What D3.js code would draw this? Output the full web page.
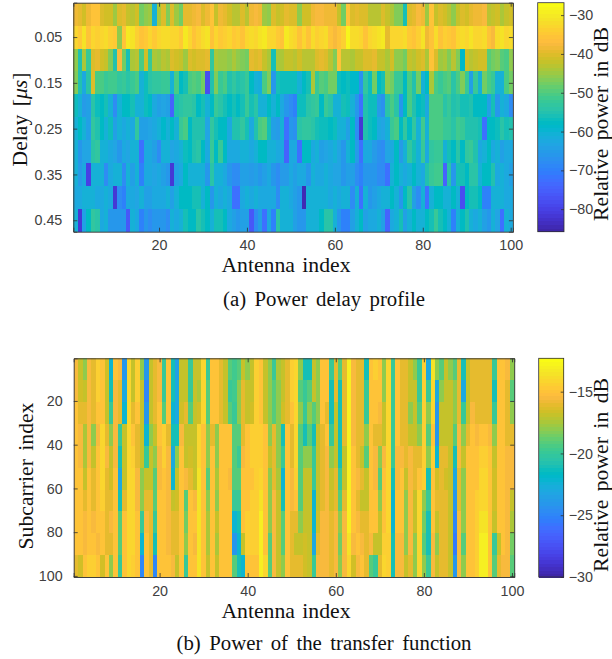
<!DOCTYPE html>
<html>
<head>
<meta charset="utf-8">
<script src="https://cdn.jsdelivr.net/npm/d3@7"></script>
<style>
body { margin: 0; background: #fff; }
text { font-family: "Liberation Serif", serif; fill: #111; }
.tick text { font-family: "Liberation Sans", sans-serif; font-size: 14.3px; fill: #404040; }
</style>
</head>
<body>
<div id="chart"></div>
<script>
// Delay rows (a), dB, one value per antenna
var delays = [0, 0.05, 0.1, 0.15, 0.2, 0.25, 0.3, 0.35, 0.4, 0.45];
var delayTicks = [0.05, 0.15, 0.25, 0.35, 0.45];
var delay00 = [-38,-39,-41,-38,-36,-36,-40,-41,-41,-45,-40,-39,-42,-43,-41,-48,-46,-45,-60,-44,-40,-47,-40,-45,-48,-39,-39,-38,-37,-40,-38,-36,-42,-38,-39,-41,-43,-43,-40,-43,-38,-37,-38,-45,-46,-40,-42,-41,-39,-40,-40,-46,-41,-41,-38,-37,-37,-38,-38,-38,-42,-48,-36,-40,-39,-40,-40,-43,-43,-43,-40,-42,-44,-47,-47,-56,-40,-39,-37,-38,-45,-36,-42,-40,-41,-43,-46,-42,-40,-41,-39,-38,-38,-37,-43,-42,-41,-44,-42,-41];
var delay05 = [-33,-35,-31,-36,-33,-34,-33,-32,-34,-35,-46,-36,-30,-31,-34,-36,-35,-33,-35,-33,-32,-32,-33,-33,-35,-30,-33,-36,-34,-32,-31,-36,-33,-35,-34,-33,-35,-34,-36,-33,-32,-33,-31,-30,-33,-33,-35,-36,-30,-32,-33,-36,-33,-36,-32,-34,-33,-32,-36,-37,-36,-34,-28,-32,-32,-33,-36,-33,-32,-31,-30,-39,-33,-33,-33,-32,-35,-36,-34,-31,-38,-36,-32,-36,-34,-35,-36,-33,-32,-33,-31,-33,-33,-32,-36,-37,-32,-31,-33,-32];
var delay10 = [-46,-55,-44,-52,-40,-39,-41,-42,-47,-55,-37,-48,-56,-44,-43,-50,-41,-52,-44,-45,-43,-44,-40,-41,-42,-45,-40,-41,-40,-40,-39,-53,-44,-45,-45,-46,-44,-46,-47,-48,-39,-40,-39,-42,-44,-56,-44,-44,-42,-42,-43,-41,-43,-43,-43,-40,-39,-40,-43,-47,-36,-43,-43,-44,-42,-42,-40,-40,-39,-42,-42,-44,-41,-46,-46,-48,-42,-43,-41,-40,-44,-36,-40,-45,-44,-47,-43,-47,-59,-41,-43,-42,-41,-41,-49,-48,-47,-49,-50,-46];
var delay15 = [-47,-55,-62,-54,-40,-50,-50,-52,-51,-51,-53,-52,-54,-52,-50,-60,-57,-54,-53,-53,-52,-52,-60,-50,-58,-56,-50,-49,-50,-48,-78,-55,-47,-52,-50,-55,-53,-55,-54,-52,-58,-60,-61,-50,-47,-66,-56,-57,-57,-57,-57,-60,-58,-56,-44,-52,-49,-50,-48,-48,-57,-58,-57,-59,-59,-67,-53,-57,-48,-58,-56,-46,-48,-52,-52,-58,-50,-55,-48,-60,-58,-44,-50,-52,-50,-49,-54,-50,-47,-52,-64,-52,-60,-48,-50,-52,-60,-60,-50,-48];
var delay20 = [-57,-60,-65,-64,-54,-57,-58,-56,-60,-68,-60,-58,-58,-56,-60,-60,-57,-58,-62,-64,-63,-64,-74,-55,-54,-53,-53,-54,-58,-56,-60,-58,-52,-54,-56,-58,-56,-58,-56,-52,-56,-54,-60,-60,-58,-60,-58,-62,-66,-68,-70,-57,-57,-54,-53,-52,-58,-52,-54,-60,-60,-56,-57,-60,-66,-72,-55,-57,-57,-65,-67,-54,-50,-54,-66,-58,-50,-55,-58,-57,-62,-50,-50,-50,-54,-52,-55,-54,-56,-56,-55,-58,-58,-58,-64,-56,-66,-60,-62,-68];
var delay25 = [-60,-58,-60,-64,-53,-55,-58,-60,-57,-64,-60,-62,-60,-62,-53,-64,-64,-63,-62,-60,-59,-60,-58,-60,-52,-50,-58,-55,-55,-55,-63,-53,-56,-58,-58,-62,-55,-55,-53,-56,-62,-55,-50,-49,-56,-64,-65,-60,-72,-66,-67,-54,-53,-53,-54,-56,-57,-57,-58,-57,-60,-60,-64,-58,-68,-82,-55,-57,-58,-62,-63,-60,-52,-50,-58,-53,-58,-53,-60,-51,-60,-50,-50,-50,-52,-52,-54,-51,-52,-55,-55,-55,-56,-72,-58,-58,-57,-54,-56,-55];
var delay30 = [-60,-66,-63,-63,-54,-53,-60,-60,-62,-63,-66,-62,-63,-60,-60,-72,-62,-62,-64,-68,-60,-60,-63,-62,-60,-57,-58,-55,-54,-58,-62,-52,-58,-52,-58,-62,-62,-62,-60,-60,-62,-60,-58,-58,-60,-60,-62,-62,-74,-62,-62,-72,-58,-58,-62,-60,-64,-63,-62,-60,-63,-66,-60,-58,-65,-72,-62,-62,-65,-67,-68,-63,-62,-58,-65,-60,-53,-56,-60,-52,-62,-53,-52,-52,-60,-56,-58,-54,-58,-53,-52,-55,-62,-60,-58,-62,-60,-64,-62,-62];
var delay35 = [-60,-65,-62,-80,-60,-60,-60,-68,-62,-60,-60,-68,-60,-64,-60,-70,-62,-62,-63,-62,-64,-66,-82,-64,-62,-58,-60,-60,-60,-60,-66,-54,-60,-60,-62,-66,-68,-68,-64,-64,-65,-64,-66,-64,-62,-66,-68,-65,-65,-62,-64,-62,-62,-66,-60,-62,-62,-60,-62,-63,-63,-66,-64,-64,-68,-70,-66,-66,-66,-68,-68,-72,-60,-58,-60,-62,-60,-58,-60,-62,-55,-52,-51,-51,-74,-54,-66,-56,-56,-58,-54,-54,-60,-58,-58,-55,-62,-60,-62,-64];
var delay40 = [-62,-62,-60,-60,-60,-62,-62,-60,-62,-82,-68,-70,-62,-62,-63,-60,-64,-64,-62,-62,-62,-60,-64,-60,-58,-58,-58,-56,-56,-60,-58,-66,-60,-62,-60,-62,-72,-72,-62,-60,-62,-60,-62,-62,-62,-62,-68,-60,-60,-62,-64,-66,-84,-60,-60,-60,-60,-60,-62,-60,-62,-60,-60,-68,-60,-72,-60,-66,-64,-62,-60,-60,-58,-60,-66,-58,-54,-64,-68,-60,-72,-60,-58,-58,-60,-60,-58,-60,-78,-58,-56,-56,-58,-70,-70,-60,-60,-60,-62,-62];
var delay45 = [-60,-82,-64,-58,-53,-54,-62,-60,-66,-66,-66,-66,-76,-60,-62,-70,-66,-68,-66,-66,-66,-68,-60,-62,-60,-56,-58,-58,-54,-56,-58,-60,-56,-56,-58,-62,-64,-66,-64,-64,-76,-68,-64,-72,-62,-70,-54,-60,-60,-60,-64,-66,-66,-60,-60,-60,-58,-54,-54,-60,-66,-70,-70,-64,-60,-58,-64,-62,-62,-60,-64,-74,-62,-60,-56,-64,-60,-58,-60,-60,-58,-56,-52,-56,-58,-60,-70,-60,-58,-55,-60,-62,-60,-64,-66,-60,-63,-72,-60,-62];
var delayRows = [delay00, delay05, delay10, delay15, delay20, delay25, delay30, delay35, delay40, delay45];

// Subcarrier bands (b), dB, one value per antenna, each band is ten subcarriers
var bandCentres = [5.5, 15.5, 25.5, 35.5, 45.5, 55.5, 65.5, 75.5, 85.5, 95.5];
var band1 = [-15.5,-17,-18,-15.5,-16,-14.5,-15,-16.5,-22,-15,-15.5,-24,-14,-17,-14.5,-18,-24,-17,-16,-15.5,-20,-15,-21,-23.5,-17,-17,-20,-17,-17,-14,-20,-15,-15,-16,-17,-19,-19.5,-19,-17,-18,-17,-14.5,-15,-17,-18,-20,-17.5,-17,-16,-14.5,-14,-18,-21,-21,-17,-18,-15,-15,-20,-16,-19,-16,-13,-15.5,-16,-16,-21,-15,-14.5,-15,-18,-14,-20,-15,-16,-16,-17,-18,-20,-14.5,-23,-13.5,-18,-19,-17,-18,-19,-16,-21,-17,-16,-16,-16,-16,-16,-20,-15,-15,-15.5,-18];
var band2 = [-15.5,-16.5,-17,-15.5,-16,-14.5,-15,-17,-21,-15.5,-16,-23,-14,-17,-14.5,-17,-25,-17,-16,-15.5,-20,-15,-21,-23,-17,-17,-20,-17,-17.5,-14,-19,-15,-15,-16,-17,-20,-19.5,-18,-16,-17,-17,-14.5,-15,-17,-18,-19,-18,-17,-16,-14.5,-14,-19,-20,-19,-17,-18,-15,-15,-21,-16,-21,-16,-13,-15.5,-16,-16,-20,-15,-15,-15,-18,-14,-20,-15,-16,-16,-17,-17,-20,-14.5,-20,-14,-23,-18,-17,-17,-18,-16,-23,-17,-16,-16,-16,-16,-16,-21,-15,-15,-16,-19];
var band3 = [-15,-16,-16,-15.5,-16,-15,-15,-17,-20,-15.5,-16,-22,-14,-16,-15,-17,-24,-17,-16,-15,-19,-15,-22,-23,-16.5,-16,-19,-17,-16.5,-14,-19,-15,-15,-16,-17,-19,-20,-18,-16,-17,-16.5,-14.5,-15,-17,-18,-19,-18,-16.5,-16,-15,-14,-18,-20,-18,-19,-18,-15,-16,-21,-17,-21,-16,-13,-15.5,-16,-16,-20,-15,-15,-15.5,-17,-14,-20,-15,-16,-16,-18,-17,-19,-14.5,-18,-14,-24,-17,-17,-17,-18,-16,-20,-17,-15.5,-16,-16,-16,-16,-20,-15,-15,-16,-18];
var band4 = [-15,-15.5,-17.5,-15.5,-18,-15.5,-14,-16,-18,-15.5,-20,-17,-14,-15,-16,-17,-22,-18,-17,-15,-14.5,-16,-21,-21,-15.5,-17,-17,-17,-14,-15,-18,-16,-18,-15,-15,-15,-19,-19,-16,-15,-14.5,-14.5,-14.5,-15,-18,-16,-18,-21,-15,-16,-14,-19,-21,-19,-21,-17,-16,-15,-20,-17,-21,-16,-13,-15.5,-16,-16,-18,-15,-16,-16,-17,-14,-20,-15,-16,-16,-17,-17,-18,-14.5,-19,-15,-24,-17,-17,-17,-19,-15.5,-18,-16,-15,-15.5,-15,-15,-15.5,-18,-15,-15,-16,-16];
var band5 = [-15,-15.5,-17.5,-15.5,-17,-15,-14,-15.5,-17,-15.5,-21,-17,-14,-14.5,-16,-17,-20,-17,-18,-15.5,-14.5,-15.5,-23,-18,-15,-17,-16.5,-17,-14,-15,-18,-15,-18,-15,-15,-15,-19,-20,-15.5,-15,-14.5,-14.5,-14.5,-15,-17,-16,-18,-20,-15,-16,-14,-19,-18,-18,-20,-17,-16,-15.5,-18,-17,-21,-17,-13,-15,-16,-17,-19,-15,-15.5,-18,-15.5,-14,-20,-15.5,-15.5,-16,-15.5,-16,-16,-14.5,-18,-14.5,-22,-16,-16,-17,-21,-15.5,-17,-15,-15,-15,-14.5,-14.5,-15,-17,-15,-15,-15.5,-15.5];
var band6 = [-15,-15,-17,-15,-16,-15,-14,-16,-16.5,-15,-23,-17,-14,-14,-15.5,-18,-17,-17,-19,-15.5,-15,-15.5,-22,-17,-15,-15.5,-16,-17,-13.5,-15,-19,-15,-17.5,-15,-15,-15.5,-19,-19,-15,-15,-15,-14.5,-14,-15,-18,-16,-17.5,-22,-15,-15.5,-14.5,-19,-17,-17,-20,-17,-16,-15.5,-17,-16,-20,-17,-13,-15,-15.5,-16,-17,-15,-15.5,-19,-15,-14,-21,-15.5,-15,-17,-15.5,-16,-15,-14.5,-21,-15,-16.5,-16,-16.5,-17,-23,-16,-18,-15,-15,-15,-14,-14,-15,-16.5,-15,-15,-15.5,-15.5];
var band7 = [-15,-15,-16,-15,-16,-15,-14.5,-16,-16,-15,-21,-16,-14,-14,-15.5,-18,-16,-16,-19,-15,-15,-15.5,-17,-16.5,-15,-19,-15,-15.5,-13.5,-15,-18,-15,-18,-15,-15,-15,-20,-20,-15,-15,-14.5,-14.5,-13.5,-15,-18,-15.5,-17,-21,-15,-15.5,-15,-19,-17,-17,-22,-17,-16,-15.5,-16.5,-16,-19,-16,-13,-15,-16,-17,-17,-15,-15,-18,-15,-14,-22,-15,-15,-18,-15.5,-17,-14,-18,-20,-15,-16,-16,-16,-17,-24,-16,-18,-15,-15,-14.5,-14,-14,-15,-16.5,-15,-15,-15.5,-17];
var band8 = [-15,-15,-15.5,-15,-15.5,-15,-15,-16,-15.5,-15,-19,-15,-14,-14,-15,-20,-15.5,-16,-20,-15,-15,-15.5,-16,-16,-15,-18.5,-15,-15,-13.5,-15,-17.5,-15,-17,-15,-15,-15,-22,-21,-15,-14.5,-14.5,-14.5,-13,-15,-18,-15.5,-17,-19,-15,-16,-16,-18,-17,-17,-22,-16.5,-15.5,-15.5,-16,-15.5,-18,-15.5,-13,-15,-15.5,-16,-16,-15,-15,-17,-15,-14,-22,-15,-15,-18,-15.5,-17,-14,-18.5,-21,-15,-17,-16,-16,-17,-25,-15.5,-18,-15,-15,-14.5,-13.5,-13.5,-15,-17,-15,-15,-15.5,-17.5];
var band9 = [-15,-15,-15.5,-15,-15,-15.5,-15,-16,-16,-15,-19,-15,-14,-14,-15,-22,-15,-16,-21,-15,-15,-15.5,-16,-16,-15,-18,-15,-15.5,-13.5,-15,-17.5,-15,-17.5,-15,-15,-15,-24,-22,-17,-14.5,-14.5,-14.5,-13,-15,-19,-15.5,-17,-19,-15,-16,-17,-17,-16.5,-17,-23,-16,-15.5,-15.5,-16,-15.5,-18.5,-15.5,-13.5,-15.5,-15,-15.5,-16,-15.5,-17,-17,-14.5,-14.5,-21,-15.5,-15.5,-18,-15.5,-18,-14,-19,-21,-15.5,-18,-16,-16,-17,-25.5,-15.5,-19,-15,-15,-14.5,-13,-13,-15,-20,-17,-15,-15.5,-18.5];
var band10 = [-16,-16.5,-15,-14.5,-14.5,-15,-16.5,-15,-18,-15,-20,-15,-14,-14.5,-15,-25,-15,-16,-25,-15,-15,-15,-15.5,-17,-15,-20,-15,-15,-13.5,-15,-17,-15,-17,-15,-15,-15,-19,-21,-22,-15,-15,-15,-13,-14,-19,-15.5,-17,-18,-15,-16,-16,-16,-16.5,-17,-20,-15.5,-15.5,-15.5,-16,-15.5,-18,-15.5,-14,-16.5,-15.5,-15,-16,-19,-20,-16,-14,-14.5,-21,-15.5,-15.5,-17,-16,-18,-14,-18,-20,-15.5,-17,-16,-16,-17,-24,-15.5,-18,-15,-15,-14.5,-13,-13,-15,-19,-16,-15.5,-15.5,-19];
var bandRows = [band1, band2, band3, band4, band5, band6, band7, band8, band9, band10];

var antennaTicks = [20, 40, 60, 80, 100];
var subcarrierTicks = [20, 40, 60, 80, 100];
var powerTicksA = [-30, -40, -50, -60, -70, -80];
var powerTicksB = [-15, -20, -25, -30];

// parula, 64 steps
var parulaRgb = [[.2422,.1504,.6603],[.2504,.165,.7076],[.2578,.1818,.7511],[.2647,.1978,.7952],[.2706,.2147,.8364],[.2751,.2342,.871],[.2783,.2559,.8991],[.2803,.2782,.9221],[.2813,.3006,.9414],[.281,.3228,.9579],[.2795,.3447,.9717],[.276,.3667,.9829],[.2699,.3892,.9906],[.2602,.4123,.9952],[.244,.4358,.9988],[.2206,.4603,.9973],[.1963,.4847,.9892],[.1834,.5074,.9798],[.1786,.5289,.9682],[.1764,.5499,.952],[.1687,.5703,.9359],[.154,.5902,.9218],[.146,.6091,.9079],[.138,.6276,.8973],[.1248,.6459,.8883],[.1113,.6635,.8763],[.0952,.6798,.8598],[.0689,.6948,.8394],[.0297,.7082,.8163],[.0036,.7203,.7917],[.0067,.7312,.766],[.0433,.7411,.7394],[.0964,.75,.712],[.1408,.7584,.6842],[.1717,.767,.6554],[.1938,.7758,.6251],[.2161,.7843,.5923],[.247,.7918,.5567],[.2906,.7973,.5188],[.3406,.8008,.4789],[.3909,.8029,.4354],[.4456,.8024,.3909],[.5044,.7993,.348],[.5616,.7942,.3045],[.6174,.7876,.2612],[.672,.7793,.2227],[.7242,.7698,.191],[.7738,.7598,.1646],[.8203,.7498,.1535],[.8634,.7406,.1596],[.9035,.733,.1774],[.9393,.7288,.21],[.9728,.7298,.2394],[.9956,.7434,.2371],[.997,.7659,.2199],[.9952,.7893,.2028],[.9892,.8136,.1885],[.9786,.8386,.1766],[.9676,.8639,.1643],[.961,.889,.1537],[.9597,.9135,.1423],[.9628,.9373,.1265],[.9691,.9606,.1064],[.9769,.9839,.0805]];
var parula = parulaRgb.map(function(c) { return d3.rgb(c[0] * 255, c[1] * 255, c[2] * 255).formatHex(); });

var svg = d3.select("#chart").append("svg")
    .attr("width", 612)
    .attr("height", 659);

// the source is a resampled bitmap, slightly soft
var defs = svg.append("defs");
defs.append("filter").attr("id", "soft")
    .attr("x", "0").attr("y", "0").attr("width", "1").attr("height", "1")
    .append("feGaussianBlur").attr("stdDeviation", "0.6 0.5");

function drawHeat(o) {
    var g = svg.append("g");

    var x = d3.scaleLinear().domain([0.5, 100.5]).range([o.left, o.right]);
    var y = d3.scaleLinear().domain(o.yDomain).range([o.top, o.bottom]);
    var color = d3.scaleQuantize().domain(o.colorDomain).range(parula);

    var cells = [];
    o.rows.forEach(function(row, r) {
        row.forEach(function(v, c) {
            cells.push({antenna: c + 1, rowValue: o.rowValues[r], value: v});
        });
    });

    g.append("g").attr("filter", "url(#soft)").selectAll("rect.cell")
        .data(cells)
        .enter()
        .append("rect")
        .attr("class", "cell")
        .attr("shape-rendering", "crispEdges")
        .attr("x", function(d) { return x(d.antenna - 0.5); })
        .attr("width", function(d) { return x(d.antenna + 0.5) - x(d.antenna - 0.5) + 0.5; })
        .attr("y", function(d) { return y(d.rowValue - o.rowStep / 2); })
        .attr("height", function(d) { return y(d.rowValue + o.rowStep / 2) - y(d.rowValue - o.rowStep / 2) + 0.5; })
        .attr("fill", function(d) { return color(d.value); });

    // Add axes, ticks point inside on all four sides
    g.append("g")
        .attr("transform", "translate(0," + o.bottom + ")")
        .call(d3.axisBottom(x).tickValues(antennaTicks).tickSize(-4).tickPadding(8.5));
    g.append("g")
        .attr("transform", "translate(0," + o.top + ")")
        .call(d3.axisTop(x).tickValues(antennaTicks).tickSize(-4).tickFormat(""));
    g.append("g")
        .attr("transform", "translate(" + o.left + ",0)")
        .call(d3.axisLeft(y).tickValues(o.yTicks).tickSize(-4).tickPadding(11));
    g.append("g")
        .attr("transform", "translate(" + o.right + ",0)")
        .call(d3.axisRight(y).tickValues(o.yTicks).tickSize(-4).tickFormat(""));

    g.selectAll(".domain").attr("stroke", "#404040").attr("stroke-width", 1);
    g.selectAll(".tick line").attr("stroke", "#303030").attr("stroke-width", 0.8);

    // Colour bar
    var barY = d3.scaleLinear().domain(o.colorDomain).range([o.bottom, o.top]);
    var levels = d3.range(64);
    var levelH = (o.bottom - o.top) / 64;
    g.selectAll("rect.level")
        .data(levels)
        .enter()
        .append("rect")
        .attr("class", "level")
        .attr("shape-rendering", "crispEdges")
        .attr("x", o.barLeft)
        .attr("width", o.barRight - o.barLeft)
        .attr("y", function(d) { return o.bottom - (d + 1) * levelH; })
        .attr("height", levelH + 0.5)
        .attr("fill", function(d) { return parula[d]; });
    g.append("rect")
        .attr("x", o.barLeft)
        .attr("y", o.top)
        .attr("width", o.barRight - o.barLeft)
        .attr("height", o.bottom - o.top)
        .attr("fill", "none")
        .attr("stroke", "#303030")
        .attr("stroke-width", 0.8);
    var barAxis = g.append("g")
        .attr("transform", "translate(" + o.barRight + ",0)")
        .call(d3.axisRight(barY).tickValues(o.barTicks).tickSize(-3).tickPadding(5));
    barAxis.select(".domain").remove();
    barAxis.selectAll(".tick line").attr("stroke", "#303030").attr("stroke-width", 0.8);

    // Axis labels and caption
    g.append("text")
        .attr("text-anchor", "middle")
        .attr("x", 286)
        .attr("y", o.bottom + 40.5)
        .style("font-size", "21.7px")
        .style("word-spacing", "2px")
        .text("Antenna index");
    var yLabel = g.append("text")
        .attr("text-anchor", "middle")
        .attr("transform", "translate(" + o.yLabelX + "," + o.yLabelY + ") rotate(-90)")
        .style("font-size", "21.7px")
        .style("word-spacing", "3px");
    o.yLabel(yLabel);
    g.append("text")
        .attr("text-anchor", "middle")
        .attr("transform", "translate(608," + o.barLabelY + ") rotate(-90)")
        .style("font-size", "21.7px")
        .style("word-spacing", "3px")
        .text("Relative power in dB");
    g.append("text")
        .attr("text-anchor", "middle")
        .attr("x", 324)
        .attr("y", o.bottom + o.captionDy)
        .style("font-size", "20.8px")
        .style("word-spacing", "3.2px")
        .text(o.caption);
}

drawHeat({
    left: 73.3, right: 512.9, top: 2.7, bottom: 231.7,
    barLeft: 537.7, barRight: 564,
    rows: delayRows, rowValues: delays, rowStep: 0.05,
    yDomain: [-0.025, 0.475], yTicks: delayTicks,
    colorDomain: [-85.8, -26.8], barTicks: powerTicksA,
    yLabelX: 27, yLabelY: 119.5, barLabelY: 124,
    caption: "(a) Power delay profile", captionDy: 74,
    yLabel: function(t) {
        t.append("tspan").text("Delay [");
        t.append("tspan").style("font-style", "italic").text("\u03bcs");
        t.append("tspan").text("]");
    }
});

drawHeat({
    left: 73.7, right: 514.2, top: 358.3, bottom: 577,
    barLeft: 538.7, barRight: 563.7,
    rows: bandRows, rowValues: bandCentres, rowStep: 10,
    yDomain: [0.5, 100.5], yTicks: subcarrierTicks,
    colorDomain: [-30, -12.3], barTicks: powerTicksB,
    yLabelX: 33, yLabelY: 476, barLabelY: 475,
    caption: "(b) Power of the transfer function", captionDy: 73,
    yLabel: function(t) { t.text("Subcarrier index"); }
});
</script>
</body>
</html>
